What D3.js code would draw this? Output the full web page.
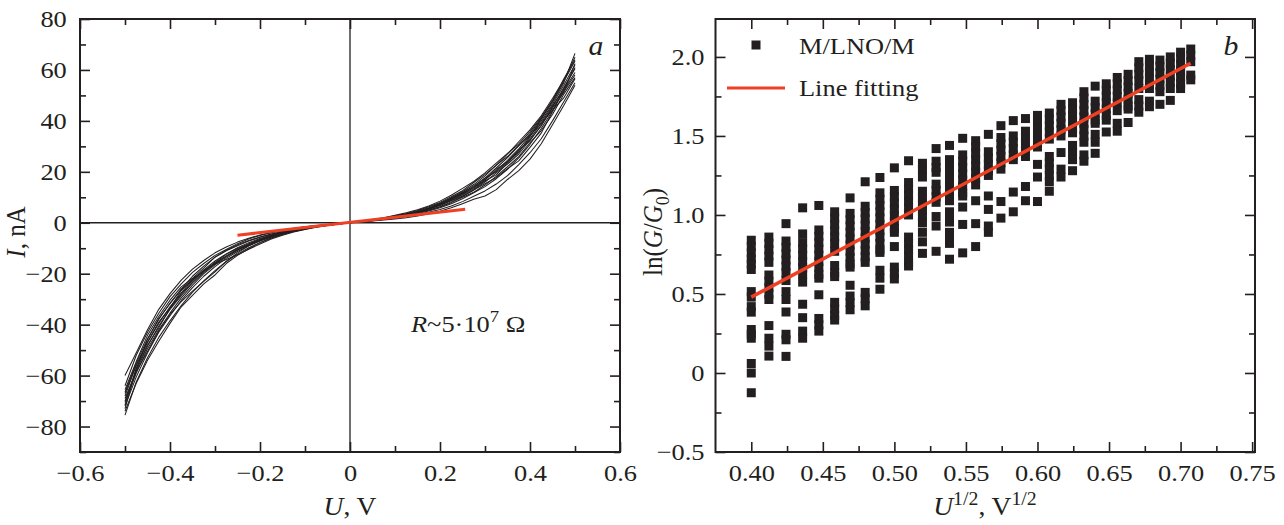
<!DOCTYPE html>
<html><head><meta charset="utf-8">
<script src="https://cdn.jsdelivr.net/npm/d3@7/dist/d3.min.js"></script>
<style>html,body{margin:0;padding:0;background:#fff;}svg{display:block;} text{font-family:'Liberation Serif','Times New Roman',serif;}</style>
</head><body>
<script>
// ---------- Panel a data: I–V sweeps ----------
const uSteps = [0,0.025,0.05,0.075,0.1,0.125,0.15,0.175,0.2,0.225,0.25,0.275,0.3,0.325,0.35,0.375,0.4,0.425,0.45,0.475,0.5];
const posSweeps = [
 [0,0.5,1.1,1.7,2.4,3.2,4.2,5.5,7.1,9.0,11.2,13.9,17.0,20.4,24.5,29.0,34.2,40.0,46.5,54.0,62.0],
 [0,0.6,1.2,1.9,2.7,3.6,4.8,6.3,8.0,10.2,12.6,15.8,19.0,22.5,27.0,31.8,36.5,42.0,48.8,56.0,65.0],
 [0,0.4,0.9,1.4,2.0,2.7,3.6,4.6,5.9,7.5,9.4,11.8,14.2,17.3,21.0,25.5,30.8,37.0,44.0,51.5,58.0],
 [0,0.5,1.0,1.6,2.2,3.0,4.0,5.3,6.8,8.6,10.5,12.8,16.0,19.6,23.0,27.0,32.5,38.0,45.5,53.0,60.5],
 [0,0.4,0.8,1.3,1.8,2.4,3.2,4.1,5.2,6.6,8.3,10.4,12.5,15.2,18.5,22.8,27.5,33.0,40.0,47.5,55.0],
 [0,0.6,1.3,2.0,2.9,3.9,5.1,6.6,8.5,10.8,13.5,16.2,19.6,23.4,27.2,31.0,35.8,41.5,48.0,55.5,63.5],
 [0,0.5,1.0,1.5,2.1,2.9,3.8,4.9,6.2,7.9,10.0,12.0,14.8,18.2,22.0,26.0,31.5,36.2,42.5,50.5,57.0],
 [0,0.5,1.1,1.7,2.5,3.4,4.4,5.8,7.4,9.4,11.6,14.5,17.5,21.5,25.6,30.2,35.0,41.0,47.2,55.0,66.5],
 [0,0.3,0.7,1.1,1.5,2.0,2.7,3.5,4.5,5.9,7.5,9.2,10.5,13.0,17.0,20.5,25.0,31.0,38.5,46.0,54.0],
 [0,0.5,1.0,1.6,2.3,3.1,4.1,5.4,7.0,8.8,11.0,13.2,16.5,18.8,23.5,28.2,33.0,39.2,46.0,52.0,59.0],
 [0,0.6,1.2,1.8,2.5,3.3,4.3,5.6,7.6,9.8,12.2,15.0,18.4,22.6,26.0,30.5,34.4,39.0,44.2,49.0,56.5],
 [0,0.4,0.9,1.5,2.2,3.0,3.9,5.0,6.4,8.2,10.3,12.9,15.3,17.8,21.2,24.3,29.6,35.2,43.6,52.5,61.0],
 [0,0.5,1.0,1.6,2.3,3.2,4.2,5.5,7.2,9.3,11.9,14.2,17.6,20.0,23.8,28.6,32.2,38.4,45.0,51.2,62.5],
 [0,0.4,1.0,1.6,2.4,3.3,4.5,5.9,7.7,9.6,11.5,13.6,16.8,21.0,24.0,27.6,33.8,40.8,47.8,56.4,64.0]
];
const negSweeps = [
 [0,-0.4,-0.9,-1.4,-2.0,-2.8,-3.7,-4.8,-6.2,-7.8,-9.8,-12.2,-15.0,-18.5,-22.5,-27.5,-33.0,-39.5,-47.0,-56.0,-68.0],
 [0,-0.5,-1.0,-1.6,-2.3,-3.2,-4.3,-5.6,-7.2,-9.0,-11.3,-14.0,-17.2,-21.0,-25.5,-30.5,-36.5,-43.0,-51.0,-60.5,-72.0],
 [0,-0.4,-0.8,-1.2,-1.7,-2.3,-3.0,-3.9,-5.0,-6.4,-8.2,-10.5,-12.8,-16.0,-19.5,-24.0,-29.0,-35.5,-43.0,-52.0,-64.0],
 [0,-0.5,-1.1,-1.7,-2.5,-3.4,-4.6,-6.0,-7.7,-9.8,-12.3,-15.2,-18.8,-22.8,-27.2,-32.5,-38.5,-45.0,-53.0,-62.5,-75.5],
 [0,-0.4,-0.9,-1.5,-2.1,-2.9,-3.9,-5.1,-6.6,-8.4,-10.4,-13.0,-15.8,-19.6,-23.6,-28.6,-34.0,-40.5,-48.5,-58.0,-70.0],
 [0,-0.3,-0.7,-1.1,-1.6,-2.2,-2.9,-3.8,-4.8,-6.1,-7.6,-9.5,-11.8,-14.8,-18.2,-22.5,-27.8,-34.0,-42.0,-51.0,-60.0],
 [0,-0.5,-1.0,-1.6,-2.4,-3.3,-4.5,-6.0,-7.9,-10.2,-12.8,-16.0,-20.5,-24.0,-28.5,-33.0,-39.5,-46.5,-54.0,-63.0,-74.0],
 [0,-0.4,-0.9,-1.4,-2.0,-2.7,-3.5,-4.5,-5.7,-7.2,-9.0,-11.0,-13.6,-17.0,-21.0,-26.0,-31.5,-38.0,-45.5,-55.0,-66.5],
 [0,-0.5,-1.0,-1.5,-2.2,-3.0,-4.0,-5.3,-6.9,-8.6,-10.8,-13.5,-16.5,-20.0,-24.5,-29.5,-35.5,-42.0,-49.5,-59.0,-70.5],
 [0,-0.4,-0.9,-1.5,-2.2,-3.0,-4.1,-5.4,-7.0,-9.0,-11.8,-15.2,-19.3,-23.0,-26.8,-31.0,-36.0,-42.5,-50.5,-58.5,-69.0],
 [0,-0.5,-1.1,-1.8,-2.6,-3.6,-4.9,-6.4,-8.3,-10.4,-12.6,-14.4,-16.2,-19.2,-22.4,-26.2,-31.8,-37.6,-45.8,-57.5,-73.0],
 [0,-0.3,-0.8,-1.3,-1.9,-2.6,-3.4,-4.4,-5.6,-7.0,-8.6,-10.8,-13.4,-17.8,-21.8,-25.2,-30.4,-36.8,-44.2,-54.5,-65.5],
 [0,-0.4,-1.0,-1.6,-2.3,-3.1,-4.2,-5.5,-7.1,-8.8,-10.6,-13.2,-16.0,-18.8,-23.2,-28.0,-33.6,-41.2,-48.0,-57.0,-71.5],
 [0,-0.5,-1.0,-1.5,-2.1,-2.8,-3.7,-4.9,-6.5,-8.2,-10.1,-12.4,-15.6,-19.0,-22.0,-26.6,-33.5,-39.0,-46.8,-55.8,-67.0]
];
const fitU = [-0.25, 0.256];
const fitI = [-4.9, 5.3];
const xTicksA = [-0.6,-0.4,-0.2,0,0.2,0.4,0.6];
const xMinorA = [-0.5,-0.3,-0.1,0.1,0.3,0.5];
const yTicksA = [-80,-60,-40,-20,0,20,40,60,80];
const yMinorA = [-90,-70,-50,-30,-10,10,30,50,70];

// ---------- Panel b data: ln(G/G0) vs U^1/2 ----------
const voltages = [0.16,0.17,0.18,0.19,0.20,0.21,0.22,0.23,0.24,0.25,0.26,0.27,0.28,0.29,0.30,0.31,0.32,0.33,0.34,0.35,0.36,0.37,0.38,0.39,0.40,0.41,0.42,0.43,0.44,0.45,0.46,0.47,0.48,0.49,0.50];
const lnG = [
 [0.84,0.80,0.76,0.72,0.69,0.655,0.515,0.48,0.42,0.385,0.275,0.245,0.22,0.06,0.0,-0.125],
 [0.86,0.82,0.78,0.74,0.70,0.62,0.58,0.54,0.50,0.465,0.30,0.22,0.17,0.107],
 [0.945,0.835,0.795,0.755,0.715,0.675,0.635,0.585,0.515,0.465,0.386,0.245,0.21,0.105],
 [1.045,0.88,0.825,0.785,0.745,0.705,0.665,0.625,0.575,0.435,0.35,0.265,0.22],
 [1.06,0.905,0.865,0.825,0.785,0.745,0.705,0.665,0.625,0.60,0.495,0.345,0.305,0.265],
 [1.02,0.98,0.94,0.90,0.86,0.82,0.77,0.68,0.635,0.61,0.447,0.405,0.365,0.335],
 [1.108,1.01,0.97,0.93,0.89,0.85,0.81,0.77,0.73,0.69,0.67,0.555,0.487,0.445,0.40],
 [1.21,1.055,1.015,0.975,0.935,0.895,0.855,0.815,0.775,0.735,0.70,0.51,0.47,0.425],
 [1.237,1.14,1.10,1.06,1.02,0.98,0.94,0.90,0.86,0.82,0.78,0.763,0.65,0.60,0.53],
 [1.298,1.155,1.115,1.075,1.035,0.995,0.955,0.915,0.89,0.80,0.67,0.63,0.595],
 [1.343,1.205,1.165,1.125,1.085,1.045,1.0,0.86,0.82,0.78,0.74,0.70,0.677],
 [1.327,1.287,1.24,1.15,1.11,1.07,1.03,0.99,0.95,0.89,0.83,0.757],
 [1.42,1.34,1.30,1.27,1.195,1.155,1.115,1.08,0.99,0.93,0.77],
 [1.44,1.35,1.31,1.27,1.23,1.19,1.15,1.11,1.09,1.02,0.985,0.955,0.89,0.855,0.82,0.72],
 [1.485,1.38,1.34,1.30,1.26,1.22,1.18,1.14,1.12,1.05,0.94,0.76],
 [1.47,1.43,1.39,1.35,1.31,1.27,1.23,1.19,1.09,0.945,0.80],
 [1.51,1.40,1.36,1.32,1.28,1.25,1.12,1.035,0.93,0.89],
 [1.565,1.49,1.45,1.41,1.37,1.33,1.29,1.085,0.98],
 [1.597,1.50,1.46,1.42,1.38,1.35,1.145,1.02],
 [1.61,1.53,1.49,1.45,1.41,1.37,1.18,1.09],
 [1.63,1.59,1.55,1.51,1.47,1.43,1.32,1.24,1.085],
 [1.645,1.605,1.565,1.525,1.48,1.37,1.33,1.29,1.25,1.21,1.15],
 [1.70,1.66,1.62,1.58,1.54,1.50,1.395,1.29,1.24],
 [1.71,1.67,1.63,1.59,1.55,1.52,1.44,1.40,1.35,1.28],
 [1.78,1.74,1.70,1.66,1.62,1.58,1.54,1.50,1.46,1.38,1.34],
 [1.815,1.72,1.68,1.64,1.60,1.58,1.51,1.46,1.39],
 [1.83,1.79,1.75,1.71,1.67,1.63,1.60,1.525],
 [1.87,1.83,1.79,1.75,1.71,1.66,1.58,1.53],
 [1.89,1.85,1.81,1.77,1.73,1.69,1.67,1.585],
 [1.97,1.93,1.89,1.85,1.80,1.73,1.69,1.65],
 [1.985,1.945,1.905,1.865,1.825,1.80,1.72,1.685],
 [1.98,1.94,1.90,1.86,1.82,1.78,1.70],
 [2.0,1.96,1.92,1.88,1.84,1.80,1.725],
 [2.03,1.99,1.95,1.91,1.87,1.83,1.80],
 [2.05,2.01,1.97,1.885,1.855]
];
const fitX = [0.40, 0.707];
const fitY = [0.48, 1.96];
const xTicksB = [0.40,0.45,0.50,0.55,0.60,0.65,0.70,0.75];
const xMinorB = [0.425,0.475,0.525,0.575,0.625,0.675,0.725];
const yTicksB = [-0.5,0,0.5,1.0,1.5,2.0];
const yMinorB = [-0.25,0.25,0.75,1.25,1.75];
const legendLabels = ["M/LNO/M", "Line fitting"];

// ---------- drawing ----------
const FONT = "'Liberation Serif','Times New Roman',serif";
const INK = "#231f20", RED = "#ee4023";
const TICK_FS = 24, SX = 1.1;
const svg = d3.select("body").append("svg").attr("width",1284).attr("height",525)
  .attr("font-family",FONT);

const minus = s => s.replace("-","\u2212");

function label(g, x, y, size, anchor, rot){
  return g.append("text")
    .attr("transform",`translate(${x},${y}) scale(${SX},1)` + (rot ? ` rotate(${rot})` : ""))
    .attr("text-anchor",anchor).style("font-size",size+"px").attr("fill",INK);
}

function frameAxes(g, x, y, xt, xm, yt, ym, fx, fy, padX, padY){
  const [x0,x1] = x.range(), [y0,y1] = y.range();
  const mk = (axisFn, scale, vals, size, fmt, pad) => axisFn(scale).tickValues(vals).tickSize(size).tickFormat(fmt).tickPadding(pad);
  const none = () => "";
  const add = (tr, ax) => g.append("g").attr("transform",tr).call(ax).attr("font-family",null).attr("font-size",null);
  add(`translate(0,${y0})`, mk(d3.axisBottom,x,xt,-10,fx,padX));
  add(`translate(0,${y0})`, mk(d3.axisBottom,x,xm,-6,none,0));
  add(`translate(0,${y1})`, mk(d3.axisTop,x,xt,-10,none,0));
  add(`translate(0,${y1})`, mk(d3.axisTop,x,xm,-6,none,0));
  add(`translate(${x0},0)`, mk(d3.axisLeft,y,yt,-10,fy,padY));
  add(`translate(${x0},0)`, mk(d3.axisLeft,y,ym,-6,none,0));
  add(`translate(${x1},0)`, mk(d3.axisRight,y,yt,-10,none,0));
  add(`translate(${x1},0)`, mk(d3.axisRight,y,ym,-6,none,0));
  g.selectAll(".domain").remove();
  g.selectAll(".tick line").attr("stroke",INK).attr("stroke-width",1.6);
  g.selectAll(".tick text").attr("fill",INK).attr("font-family",FONT).style("font-family",FONT)
    .style("font-size",TICK_FS+"px").attr("transform",`scale(${SX},1)`);
  g.append("rect").attr("x",x0).attr("y",y1).attr("width",x1-x0).attr("height",y0-y1)
    .attr("fill","none").attr("stroke",INK).attr("stroke-width",2);
}

// ---- Panel a ----
const xA = d3.scaleLinear().domain([-0.6,0.6]).range([80,620]);
const yA = d3.scaleLinear().domain([-90,80]).range([452,19]);
const gA = svg.append("g");
gA.append("line").attr("x1",xA(0)).attr("x2",xA(0)).attr("y1",yA(80)).attr("y2",yA(-90)).attr("stroke",INK).attr("stroke-width",1.3);
gA.append("line").attr("x1",xA(-0.6)).attr("x2",xA(0.6)).attr("y1",yA(0)).attr("y2",yA(0)).attr("stroke",INK).attr("stroke-width",1.3);
const lineA = d3.line().x(d=>xA(d[0])).y(d=>yA(d[1]));
posSweeps.forEach((p,i)=>{
  const n = negSweeps[i];
  const pts = [];
  for(let k=uSteps.length-1;k>=0;k--) pts.push([-uSteps[k], n[k]]);
  for(let k=1;k<uSteps.length;k++) pts.push([uSteps[k], p[k]]);
  gA.append("path").attr("d",lineA(pts)).attr("fill","none").attr("stroke",INK).attr("stroke-width",1.05).attr("stroke-linejoin","round");
});
gA.append("path").attr("d",lineA(fitU.map((u,i)=>[u,fitI[i]]))).attr("stroke",RED).attr("stroke-width",3).attr("fill","none");
frameAxes(gA,xA,yA,xTicksA,xMinorA,yTicksA,yMinorA,
  d=>minus(d===0?"0":d3.format(".1f")(d)), d=>minus(String(d)), 12, 12);
label(gA, xA(0), 515, 25, "middle")
  .call(t=>{t.append("tspan").style("font-style","italic").text("U");t.append("tspan").text(", V");});
label(gA, 25, 232, 25, "middle", -90)
  .call(t=>{t.append("tspan").style("font-style","italic").text("I");t.append("tspan").text(", nA");});
label(gA, 596, 55, 27, "middle").style("font-style","italic").text("a");
label(gA, 411, 332, 24, "start")
  .call(t=>{t.append("tspan").style("font-style","italic").text("R");
    t.append("tspan").text("~5\u00b710");
    t.append("tspan").attr("dy",-10).style("font-size","17px").text("7");
    t.append("tspan").attr("dy",10).text(" \u03a9");});

// ---- Panel b ----
const xB = d3.scaleLinear().domain([0.375,0.752]).range([715.5,1255]);
const yB = d3.scaleLinear().domain([-0.5,2.24]).range([452,19]);
const gB = svg.append("g");
const SQ = 9;
const pts = [];
voltages.forEach((u,i)=> lnG[i].forEach(v=>pts.push([Math.sqrt(u), v])));
gB.append("g").selectAll("rect").data(pts).join("rect")
  .attr("x",d=>xB(d[0])-SQ/2).attr("y",d=>yB(d[1])-SQ/2).attr("width",SQ).attr("height",SQ).attr("fill",INK);
gB.append("path").attr("d",d3.line().x(d=>xB(d[0])).y(d=>yB(d[1]))(fitX.map((x,i)=>[x,fitY[i]])))
  .attr("stroke",RED).attr("stroke-width",3.5).attr("fill","none");
frameAxes(gB,xB,yB,xTicksB,xMinorB,yTicksB,yMinorB,
  d=>d3.format(".2f")(d), d=>minus(d===0?"0":d3.format(".1f")(d)), 12, 10);
gB.append("rect").attr("x",756-SQ/2).attr("y",45-SQ/2).attr("width",SQ).attr("height",SQ).attr("fill",INK);
label(gB, 799, 54, 24, "start").text(legendLabels[0]);
gB.append("line").attr("x1",727).attr("x2",785).attr("y1",88).attr("y2",88).attr("stroke",RED).attr("stroke-width",3);
label(gB, 799, 96, 24, "start").text(legendLabels[1]);
label(gB, 1231, 55, 27, "middle").style("font-style","italic").text("b");
label(gB, 985, 515, 25, "middle")
  .call(t=>{t.append("tspan").style("font-style","italic").text("U");
    t.append("tspan").attr("dy",-10).style("font-size","18px").text("1/2");
    t.append("tspan").attr("dy",10).text(", V");
    t.append("tspan").attr("dy",-10).style("font-size","18px").text("1/2");});
label(gB, 662, 232, 25, "middle", -90)
  .call(t=>{t.append("tspan").text("ln(");
    t.append("tspan").style("font-style","italic").text("G");
    t.append("tspan").text("/");
    t.append("tspan").style("font-style","italic").text("G");
    t.append("tspan").attr("dy",6).style("font-size","18px").text("0");
    t.append("tspan").attr("dy",-6).text(")");});
</script>
</body></html>
